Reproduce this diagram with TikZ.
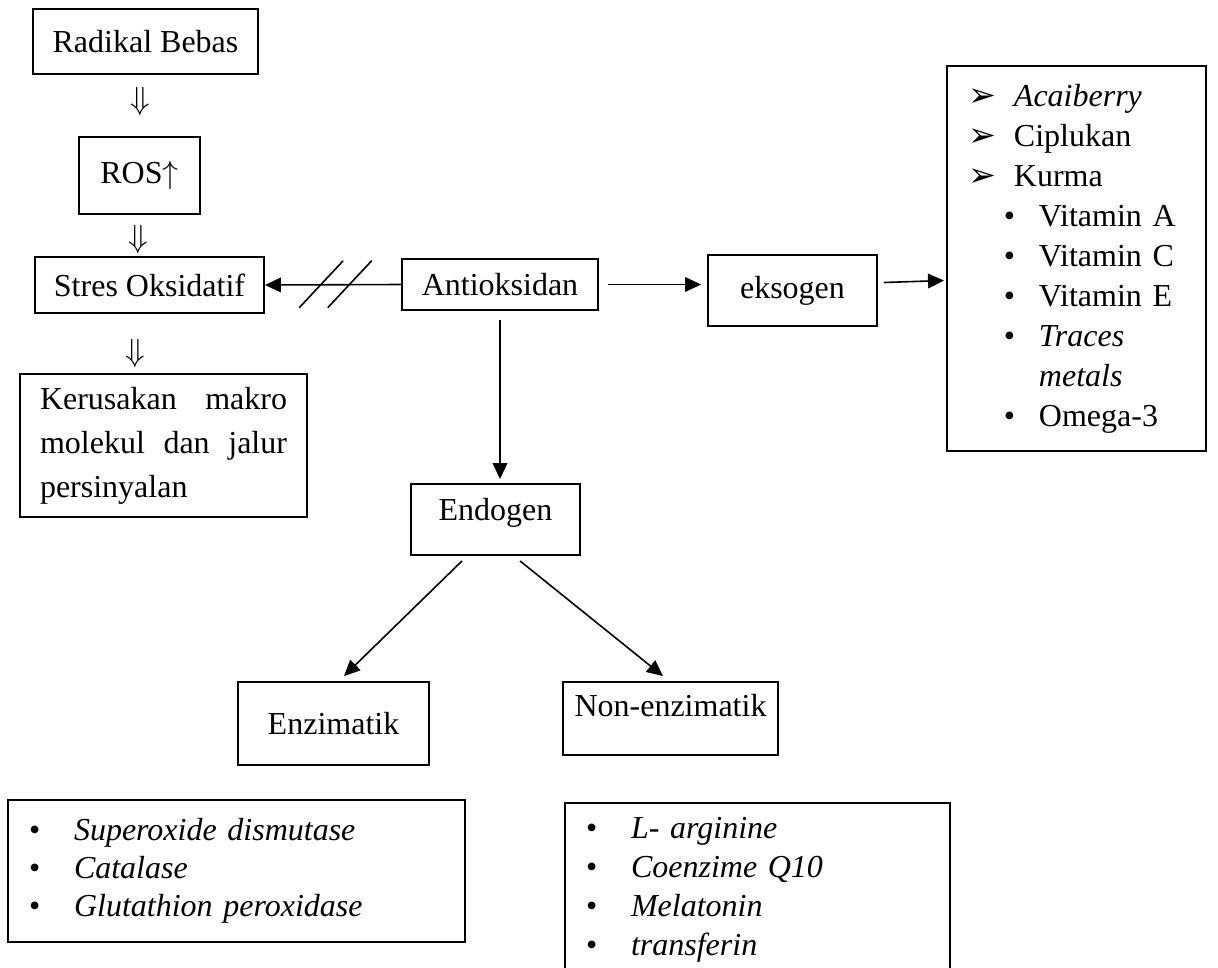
\documentclass[tikz,border=0pt]{standalone}
\usepackage{fontspec}
\setmainfont{Liberation Serif}
\newfontfamily\dingfont{DejaVu Sans}
\usetikzlibrary{arrows.meta,calc}

\newlength{\unidad}
\setlength{\unidad}{0.375pt}

\tikzset{
  caja/.style={draw, line width=0.7pt, align=center, inner sep=0pt,
    font=\fontsize{12}{15}\selectfont},
  flecha/.style={-{Triangle[length=6pt,width=5.5pt]}, line width=0.6pt},
  doble/.style={inner sep=0pt, font=\fontsize{12}{15}\selectfont},
}

\newcommand{\flechita}{{\dingfont\fontsize{12.5}{12}\selectfont ➢}}
\newcommand{\flecitem}[1]{\makebox[45\unidad][l]{\flechita}#1}
\newcommand{\punitem}[1]{\hspace*{35\unidad}\makebox[35\unidad][l]{•}#1}
\newcommand{\punlista}[1]{\makebox[45\unidad][l]{•}#1}

\begin{document}
\begin{tikzpicture}[x=0.375pt, y=-0.375pt]

    \useasboundingbox (0,0) rectangle (1218,967);

    % Cajas de la cadena de la izquierda
    \node[caja, minimum width=225\unidad, minimum height=65\unidad] (radikal) at (145.5,41.5) {Radikal Bebas};
    \node[caja, minimum width=121\unidad, minimum height=77\unidad] (ros) at (139.5,175.5) {ROS$\uparrow$};
    \node[caja, minimum width=229\unidad, minimum height=56\unidad] (stres) at (149.5,285) {Stres Oksidatif};
    \node[caja, inner xsep=20\unidad, text width=247\unidad, minimum height=143\unidad,
          align=left, font=\fontsize{12}{16.5}\selectfont] (rusak) at (163.5,445.5)
          {Kerusakan\hfill makro\\molekul\hfill dan\hfill jalur\\persinyalan};

    % Flechas dobles entre las cajas
    \node[doble] (d1) at (140,101) {$\Downarrow$};
    \node[doble] (d2) at (138,239) {$\Downarrow$};
    \node[doble] (d3) at (135,353) {$\Downarrow$};

    % Antioksidan y sus ramas
    \node[caja, minimum width=196\unidad, minimum height=51\unidad] (anti) at (500,284.5) {Antioksidan};
    \node[caja, minimum width=169\unidad, minimum height=71\unidad] (eksogen) at (792.5,290.5) {eksogen};
    \node[caja, minimum width=169\unidad, minimum height=71\unidad, text depth=7.8pt] (endo) at (495.5,519.5) {Endogen};
    \node[caja, minimum width=191\unidad, minimum height=83\unidad] (enzim) at (333.5,723.5) {Enzimatik};
    \node[caja, minimum width=215\unidad, minimum height=73\unidad, text depth=9.8pt] (nonenz) at (670.5,718.5) {Non-enzimatik};

    % Lista de antioksidan eksogen
    \node[caja, anchor=north west, inner xsep=22\unidad, text width=215\unidad,
          minimum height=385\unidad, align=left] (lista) at (946,65)
          {\flecitem{\textit{Acaiberry}}\\
           \flecitem{Ciplukan}\\
           \flecitem{Kurma}\\
           \punitem{Vitamin A}\\
           \punitem{Vitamin C}\\
           \punitem{Vitamin E}\\
           \punitem{\textit{Traces}}\\
           \hspace*{70\unidad}\textit{metals}\\
           \punitem{Omega-3}};

    % Listas de abajo
    \node[caja, inner xsep=21\unidad, text width=415\unidad, minimum height=142\unidad,
          align=left, font=\fontsize{12}{14.25}\selectfont] (lenzim) at (236.5,871)
          {\punlista{\textit{Superoxide dismutase}}\\
           \punlista{\textit{Catalase}}\\
           \punlista{\textit{Glutathion peroxidase}}};
    \node[caja, anchor=north, inner xsep=21\unidad, text width=343\unidad, minimum height=173\unidad,
          align=left, font=\fontsize{12}{14.6}\selectfont] (lnonenz) at (757.5,802)
          {\punlista{\textit{L- arginine}}\\
           \punlista{\textit{Coenzime Q10}}\\
           \punlista{\textit{Melatonin}}\\
           \punlista{\textit{transferin}}};

    % Flecha cortada hacia Stres Oksidatif
    \draw[flecha] (anti.west) -- (stres.east) coordinate[pos=0.377] (c1) coordinate[pos=0.587] (c2);
    \draw[line width=0.6pt] (c1) ++(-22,23) -- ++(44,-47);
    \draw[line width=0.6pt] (c2) ++(-22,23) -- ++(44,-47);

    % Flechas normales
    \draw[flecha, shorten <=9\unidad, shorten >=6\unidad] (anti.east) -- (anti.east -| eksogen.west);
    \draw[flecha] ($(eksogen.east)+(6,-8)$) -- ($(eksogen.east -| lista.west)+(-2,-10)$);
    \draw[flecha, shorten <=9\unidad, shorten >=4\unidad] (anti.south) -- (anti.south |- endo.north);
    \draw[flecha] ([shift={(-33.5,5)}]endo.south) -- ([shift={(10.5,-5)}]enzim.north);
    \draw[flecha] ([shift={(24.5,5)}]endo.south) -- ([shift={(-7.5,-5)}]nonenz.north);

\end{tikzpicture}
\end{document}
